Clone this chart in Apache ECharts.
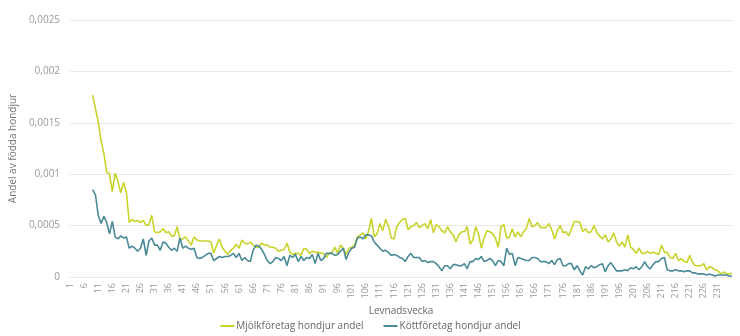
<!DOCTYPE html>
<html>
<head>
<meta charset="utf-8">
<script src="https://cdn.jsdelivr.net/npm/echarts@6/dist/echarts.min.js"></script>
<style>html,body{margin:0;padding:0;background:#fff}#c{width:740px;height:336px}</style>
</head>
<body>
<div id="c"></div>
<script>
// Levnadsvecka categories 1..236
var weeks = [];
for (var w = 1; w <= 236; w++) weeks.push(String(w));
var firstWeek = 9;

var seriesNames = ['Mjölkföretag hondjur andel', 'Köttföretag hondjur andel'];

// Mjölkföretag, weeks 9..236
var mjolk = [
.00177,.00164,.00151,.00133,.0012,.00102,.001,.00083,.00101,.00093,
.00082,.00092,.00082,.00053,.00056,.00054,.00055,.00053,.00055,.0005,
.00051,.0006,.00044,.00043,.00044,.00047,.00043,.00044,.0004,.0004,
.00049,.00036,.00037,.00039,.00035,.00031,.00039,.00036,.00035,.00035,
.00035,.00035,.00034,.00023,.00031,.00037,.00029,.00025,.00022,.00026,
.00028,.00032,.00028,.00036,.00033,.00032,.00034,.00031,.00029,.00029,
.00033,.00031,.00031,.00029,.00029,.00028,.00025,.00026,.00027,.00033,
.00024,.00022,.00023,.00023,.00021,.00028,.00027,.00023,.00025,.00024,
.00024,.00023,.00023,.00019,.00023,.00024,.00029,.00023,.00031,.00028,
.00022,.00028,.00029,.00031,.00039,.00041,.00043,.00037,.00045,.00057,
.00039,.00042,.00052,.00045,.00056,.0005,.00038,.00037,.00049,.00053,
.00056,.00057,.00046,.00049,.0005,.00053,.00048,.0005,.00052,.00047,
.00056,.00043,.00051,.00049,.00045,.00043,.00049,.00044,.00041,.00034,
.00041,.00044,.00044,.00049,.00032,.00036,.00049,.00042,.00028,.00038,
.00045,.00044,.00042,.00038,.00029,.00049,.00051,.00038,.00039,.00047,
.00039,.00044,.00039,.00044,.00047,.00057,.00049,.0005,.00053,.00048,
.00048,.00048,.00052,.00046,.00037,.00045,.0005,.00043,.00044,.0004,
.00047,.00054,.00054,.00053,.00044,.00047,.00043,.00044,.0005,.00043,
.0004,.00037,.00041,.00034,.00037,.00043,.00034,.0003,.00034,.00029,
.00041,.00029,.00027,.00023,.00028,.00023,.00023,.00025,.00023,.00024,
.00023,.00022,.00031,.00024,.00024,.00019,.00018,.00023,.00016,.00018,
.00015,.00014,.00021,.00014,.00011,.00011,.00011,.00013,.00007,.0001,
.00009,.00007,.00006,.00003,.00005,.00003,.00003,.00004
];

// Köttföretag, weeks 9..236
var kott = [
.00085,.0008,.0006,.00052,.00059,.00053,.00042,.00054,.00039,.00037,
.0004,.00038,.00039,.00028,.0003,.00028,.00025,.00028,.00037,.00021,
.00035,.00038,.00031,.00031,.00026,.00034,.00033,.00029,.00026,.00028,
.00025,.00038,.00028,.0003,.00028,.00027,.00028,.00019,.00018,.00019,
.00021,.00023,.00023,.00016,.00018,.0002,.00019,.0002,.0002,.00021,
.00023,.00019,.00023,.00016,.00019,.00016,.00015,.00026,.00031,.0003,
.00027,.00022,.00016,.00013,.00015,.00019,.00018,.00016,.0002,.00011,
.00021,.00019,.00022,.00015,.0002,.00016,.00019,.00018,.00022,.00013,
.00023,.00016,.00018,.00023,.00023,.00023,.00021,.00022,.00025,.00028,
.00017,.00024,.00028,.00029,.00038,.00039,.00037,.00041,.00041,.0004,
.00034,.00031,.00028,.00025,.00026,.00024,.00021,.00022,.00021,.00019,
.00018,.00015,.0002,.00023,.00019,.00019,.00019,.00015,.00016,.00014,
.00015,.00015,.00013,.0001,.00006,.00011,.00011,.00008,.00012,.00012,
.00011,.00011,.00013,.00008,.00015,.00015,.00018,.00017,.0002,.00015,
.00016,.00018,.00016,.00011,.00016,.00015,.00011,.00028,.00022,.00023,
.00011,.00019,.00018,.00017,.00016,.00016,.00019,.00019,.00018,.00015,
.00015,.00015,.00013,.00016,.00012,.00017,.00018,.00011,.00011,.00013,
.00013,.00007,.00011,.00006,.00002,.0001,.00008,.00011,.00009,.0001,
.00012,.00013,.00005,.00011,.00014,.0001,.00006,.00006,.00006,.00007,
.00006,.00009,.00008,.0001,.00007,.0001,.00015,.0001,.00008,.00012,
.00015,.00015,.00018,.00019,.00007,.00006,.00006,.00007,.00006,.00006,
.00005,.00006,.00006,.00004,.00004,.00003,.00003,.00003,.00002,.00003,
.00002,.00001,.00002,.00002,.00002,.00002,.00001,.00001
];

function pad(arr) {
  var out = [];
  for (var i = 1; i < firstWeek; i++) out.push(null);
  return out.concat(arr);
}

var FONT = '"Open Sans", "Noto Sans", sans-serif';
var chart = echarts.init(document.getElementById('c'), null, {renderer: 'canvas'});
chart.setOption({
  animation: false,
  textStyle: {fontFamily: FONT},
  grid: {left: 57, right: 8, top: 20, bottom: 59, containLabel: false},
  legend: {
    bottom: 0, left: 'center', itemGap: 19, itemWidth: 14, itemHeight: 2,
    textStyle: {color: '#666', fontSize: 10, fontFamily: FONT, padding: [0, 0, 0, -3]},
    data: seriesNames
  },
  xAxis: {
    type: 'category', data: weeks, boundaryGap: false,
    name: 'Levnadsvecka', nameLocation: 'middle', nameGap: 27,
    nameTextStyle: {color: '#666', fontSize: 10, fontFamily: FONT},
    axisLine: {show: false}, axisTick: {show: false},
    axisLabel: {interval: 4, rotate: 90, color: '#999', fontSize: 9, margin: 6, fontFamily: FONT,
      showMaxLabel: false}
  },
  yAxis: {
    type: 'value', min: 0, max: 0.0025, interval: 0.0005,
    name: 'Andel av födda hondjur', nameLocation: 'middle', nameGap: 44,
    nameTextStyle: {color: '#777', fontSize: 10, fontFamily: FONT},
    axisLine: {show: false}, axisTick: {show: false},
    splitLine: {lineStyle: {color: '#e8e8e8', width: 1}},
    axisLabel: {color: '#999', fontSize: 10, margin: 10, fontFamily: FONT,
      formatter: function (v) { return String(Number(v.toFixed(6))).replace('.', ','); }}
  },
  series: [
    {name: seriesNames[0], type: 'line', data: pad(mjolk), symbol: 'none', showSymbol: false,
     lineStyle: {color: '#c8d32b', width: 1.6}, itemStyle: {color: '#c8d32b'}},
    {name: seriesNames[1], type: 'line', data: pad(kott), symbol: 'none', showSymbol: false,
     lineStyle: {color: '#4a8a96', width: 1.6}, itemStyle: {color: '#4a8a96'}}
  ]
});
</script>
</body>
</html>
